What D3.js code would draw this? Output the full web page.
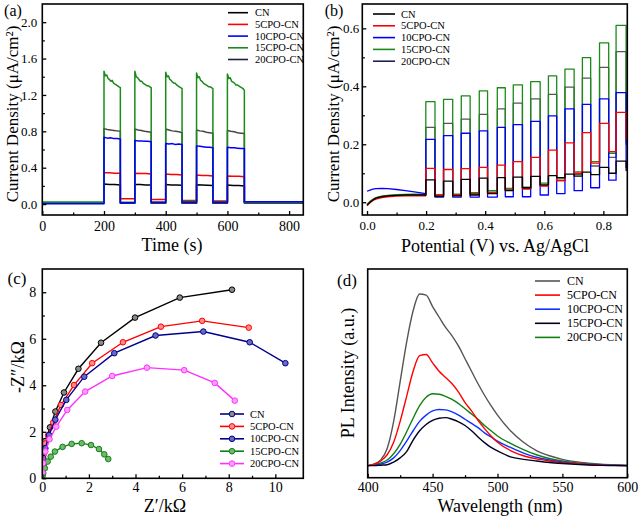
<!DOCTYPE html>
<html><head><meta charset="utf-8">
<script src="https://cdn.jsdelivr.net/npm/d3@7"></script>
<style>
body{margin:0;background:#fff}
svg{display:block}
text{font-family:"Liberation Serif","Times New Roman",serif;fill:#000}
</style>
</head><body>
<svg id="chart" width="640" height="520"></svg>
<script>
// ================= DATA =================
const seriesNames = ["CN","5CPO-CN","10CPO-CN","15CPO-CN","20CPO-CN"];

// ---- (a) transient photocurrent (µA/cm²) vs time (s) ----
const aOn  = [200, 300, 400, 500, 600];
const aOff = [253, 353, 453, 553, 655];
const aEnd = 850;
// dark levels: before pulse 1, then after each pulse
const aDarkCN  = [0.015, 0.010, 0.010, 0.010, 0.010, 0.012];
const aDark5   = [0.015, 0.060, 0.050, 0.040, 0.035, 0.020];
const aDark10  = [0.005, 0.015, 0.020, 0.020, 0.020, 0.025];
const aDark15  = [0.022, 0.020, 0.020, 0.030, 0.025, 0.020];
const aDark20  = [0.015, 0.012, 0.012, 0.012, 0.012, 0.015];
// light-on readings, evenly spread over each on-interval
const aLitCN = [[0.220,0.215,0.215,0.210],[0.215,0.215,0.210,0.210],[0.215,0.210,0.210,0.208],[0.212,0.210,0.208,0.205],[0.210,0.205,0.205,0.200]];
const aLit5  = [[0.345,0.345,0.340,0.340],[0.340,0.335,0.335,0.330],[0.330,0.325,0.325,0.320],[0.320,0.315,0.315,0.310],[0.310,0.305,0.305,0.300]];
const aLit10 = [[0.735,0.725,0.730,0.720,0.720,0.715],[0.700,0.695,0.695,0.690,0.690,0.685],[0.665,0.660,0.665,0.655,0.660,0.655],[0.640,0.635,0.630,0.625,0.625,0.620],[0.625,0.620,0.620,0.615,0.610,0.610]];
const aLit15 = [
  [1.46,1.41,1.42,1.38,1.37,1.35,1.36,1.33,1.32,1.31,1.30,1.29,1.28],
  [1.46,1.40,1.39,1.37,1.35,1.35,1.33,1.32,1.31,1.30,1.30,1.29,1.28],
  [1.45,1.40,1.41,1.37,1.36,1.34,1.33,1.33,1.31,1.30,1.29,1.28,1.27],
  [1.44,1.39,1.40,1.36,1.35,1.33,1.32,1.31,1.30,1.29,1.29,1.28,1.27],
  [1.43,1.38,1.39,1.35,1.34,1.33,1.31,1.31,1.30,1.29,1.28,1.27,1.25]];
const aLit20 = [[0.830,0.820,0.815,0.810,0.805,0.800],[0.825,0.815,0.810,0.800,0.795,0.790],[0.825,0.815,0.805,0.800,0.795,0.785],[0.815,0.805,0.800,0.790,0.785,0.780],[0.810,0.800,0.795,0.785,0.780,0.775]];
const aTicksX = [0,200,400,600,800];
const aTicksY = [0.0,0.4,0.8,1.2,1.6,2.0];

// ---- (b) chopped LSV: current (µA/cm²) vs potential (V) ----
const bPreV   = [0.000,0.010,0.020,0.030,0.050,0.070,0.100,0.130,0.160,0.199];
const bPreCN  = [-0.010,0.000,0.008,0.014,0.019,0.022,0.024,0.025,0.025,0.025];
const bPre5   = [-0.012,-0.002,0.006,0.011,0.016,0.019,0.021,0.022,0.022,0.022];
const bPre10  = [0.038,0.042,0.045,0.047,0.048,0.047,0.044,0.040,0.036,0.030];
const bPre15  = [-0.008,0.003,0.010,0.016,0.021,0.024,0.026,0.027,0.028,0.028];
const bPre20  = [-0.009,0.001,0.009,0.015,0.020,0.023,0.025,0.026,0.026,0.026];
const bOn  = [0.199,0.259,0.319,0.380,0.441,0.495,0.554,0.614,0.670,0.729,0.787,0.843];
const bOff = [0.230,0.290,0.349,0.408,0.468,0.526,0.586,0.642,0.701,0.757,0.818,0.877];
const bEndV = 0.881;
const bLitCN = [0.077,0.073,0.079,0.083,0.085,0.087,0.089,0.092,0.097,0.104,0.120,0.142];
const bLit5  = [0.117,0.113,0.116,0.120,0.128,0.140,0.155,0.180,0.205,0.240,0.272,0.310];
const bLit10 = [0.217,0.230,0.238,0.246,0.258,0.268,0.279,0.298,0.322,0.338,0.357,0.378];
const bLit15 = [0.347,0.355,0.367,0.384,0.395,0.405,0.416,0.436,0.459,0.499,0.550,0.610];
const bLit20 = [0.258,0.272,0.287,0.303,0.322,0.342,0.357,0.372,0.397,0.428,0.465,0.520];
const bDarkCN = [0.020,0.022,0.025,0.030,0.040,0.050,0.060,0.085,0.090,0.095,0.100,0.110];
const bDark5  = [0.025,0.025,0.028,0.033,0.043,0.045,0.056,0.075,0.100,0.135,0.175,0.220];
const bDark10 = [0.018,0.018,0.018,0.018,0.019,0.019,0.025,0.030,0.040,0.050,0.076,0.120];
const bDark15 = [0.025,0.028,0.033,0.040,0.048,0.052,0.066,0.083,0.105,0.140,0.169,0.210];
const bDark20 = [0.022,0.025,0.030,0.035,0.042,0.048,0.058,0.075,0.095,0.125,0.155,0.200];
const bTicksX = [0.0,0.2,0.4,0.6,0.8];
const bTicksY = [0.0,0.2,0.4,0.6];

// ---- (c) Nyquist plots: Z' (kΩ), -Z'' (kΩ) ----
const cXCN  = [0.01,0.05,0.12,0.33,0.56,0.93,1.55,2.52,3.98,5.90,8.14];
const cYCN  = [0.55,1.10,1.60,2.19,2.87,3.69,4.71,5.83,6.91,7.77,8.11];
const cX5   = [0.01,0.05,0.13,0.25,0.47,0.80,1.36,2.14,3.46,5.09,6.86,8.86];
const cY5   = [0.50,1.00,1.50,1.85,2.40,3.15,4.01,4.95,5.85,6.52,6.77,6.48];
const cX10  = [0.01,0.04,0.13,0.29,0.56,1.03,1.80,3.09,4.86,6.91,8.90,10.43];
const cY10  = [0.45,0.85,1.29,1.86,2.52,3.37,4.37,5.38,6.14,6.31,5.85,4.95];
const cX15  = [0.01,0.04,0.11,0.23,0.36,0.54,0.87,1.26,1.69,2.09,2.43,2.66,2.83];
const cY15  = [0.10,0.22,0.43,0.72,0.93,1.15,1.35,1.48,1.51,1.43,1.26,1.03,0.83];
const cX20  = [0.01,0.04,0.13,0.31,0.60,1.07,1.84,3.00,4.49,6.09,7.40,8.26];
const cY20  = [0.25,0.65,1.15,1.68,2.22,2.94,3.73,4.40,4.76,4.65,4.10,3.34];
const cTicksX = [0,2,4,6,8,10];
const cTicksY = [0,2,4,6,8];

// ---- (d) PL spectra (a.u.) vs wavelength (nm) ----
const dWl  = [400,405,410,415,420,425,430,435,440,445,450,455,460,465,470,475,480,485,490,495,500,510,520,530,540,550,560,570,580,590,600];
const dCN  = [0.058,0.065,0.085,0.14,0.27,0.46,0.65,0.80,0.88,0.875,0.82,0.77,0.72,0.68,0.63,0.57,0.51,0.45,0.395,0.345,0.30,0.225,0.17,0.13,0.105,0.088,0.077,0.070,0.065,0.062,0.060];
const d5   = [0.058,0.065,0.080,0.11,0.17,0.27,0.39,0.51,0.585,0.59,0.55,0.51,0.48,0.45,0.41,0.36,0.32,0.275,0.235,0.20,0.17,0.13,0.105,0.090,0.080,0.072,0.067,0.063,0.060,0.059,0.058];
const d10  = [0.058,0.060,0.065,0.075,0.095,0.13,0.175,0.225,0.27,0.30,0.32,0.327,0.325,0.315,0.30,0.28,0.26,0.24,0.215,0.195,0.175,0.145,0.118,0.098,0.085,0.075,0.068,0.064,0.061,0.059,0.058];
const d15  = [0.058,0.058,0.060,0.062,0.075,0.095,0.125,0.18,0.225,0.255,0.275,0.285,0.288,0.28,0.268,0.25,0.225,0.195,0.168,0.145,0.128,0.100,0.088,0.080,0.073,0.068,0.064,0.061,0.059,0.058,0.058];
const d20  = [0.058,0.062,0.070,0.085,0.115,0.16,0.22,0.285,0.345,0.385,0.402,0.40,0.39,0.375,0.355,0.33,0.305,0.28,0.25,0.225,0.20,0.165,0.135,0.110,0.092,0.080,0.072,0.066,0.062,0.060,0.058];
const dTicksX = [400,450,500,550,600];

// ================= DRAW =================
const svg = d3.select("#chart");

function minorBetween(ticks){
  const out=[]; for(let i=0;i<ticks.length-1;i++) out.push((ticks[i]+ticks[i+1])/2);
  return out;
}
function drawAxes(g, x, y, xt, xfmt, yt, yfmt, o){
  const y0 = y.range()[0], x0 = x.range()[0];
  const fs = o.fs||14, yfs = o.yfs||fs;
  const bx = g.append("g").attr("transform",`translate(0,${y0})`)
    .call(d3.axisBottom(x).tickValues(xt).tickSize(-4).tickPadding(o.xpad||7).tickFormat(xfmt));
  const bxm = g.append("g").attr("transform",`translate(0,${y0})`)
    .call(d3.axisBottom(x).tickValues(o.xminor||minorBetween(xt)).tickSize(-2.5).tickFormat(""));
  [bx,bxm].forEach(s=>{s.select(".domain").remove(); s.attr("font-family",null).attr("font-size",null);
    s.selectAll("line").attr("stroke","#000").attr("stroke-width",1.3);});
  bx.selectAll("text").style("font-size",fs+"px");
  if(yt){
    const ly = g.append("g").attr("transform",`translate(${x0},0)`)
      .call(d3.axisLeft(y).tickValues(yt).tickSize(-4).tickPadding(o.ypad||5).tickFormat(yfmt));
    const lym = g.append("g").attr("transform",`translate(${x0},0)`)
      .call(d3.axisLeft(y).tickValues(o.yminor||minorBetween(yt)).tickSize(-2.5).tickFormat(""));
    [ly,lym].forEach(s=>{s.select(".domain").remove(); s.attr("font-family",null).attr("font-size",null);
      s.selectAll("line").attr("stroke","#000").attr("stroke-width",1.3);});
    ly.selectAll("text").style("font-size",yfs+"px");
  }
  const [xa,xb]=x.range(), [ya,yb]=y.range();
  g.append("rect").attr("x",xa).attr("y",yb).attr("width",xb-xa).attr("height",ya-yb)
    .attr("fill","none").attr("stroke","#000").attr("stroke-width",1.6);
}
function clip(id, x, y){
  const [xa,xb]=x.range(), [ya,yb]=y.range();
  svg.append("clipPath").attr("id",id).append("rect")
    .attr("x",xa).attr("y",yb).attr("width",xb-xa).attr("height",ya-yb);
  return `url(#${id})`;
}
function label(txt,x,y,fs,rot){
  const t = svg.append("text").attr("x",x).attr("y",y).attr("text-anchor","middle")
    .attr("dominant-baseline","central").style("font-size",fs+"px").text(txt);
  if(rot) t.attr("transform",`rotate(-90,${x},${y})`);
  return t;
}
function legend(g, x1, x2, tx, y0, dy, colors, fs, marker, fills){
  [0,1,2,3,4].forEach((i,k)=>{
    const yy = y0 + k*dy;
    g.append("line").attr("x1",x1).attr("x2",x2).attr("y1",yy).attr("y2",yy)
      .attr("stroke",colors[i]).attr("stroke-width",1.6);
    if(marker) g.append("circle").attr("cx",(x1+x2)/2).attr("cy",yy).attr("r",2.8)
      .attr("fill",fills[i]).attr("stroke",colors[i]).attr("stroke-width",1);
    g.append("text").attr("x",tx).attr("y",yy).attr("dominant-baseline","central")
      .style("font-size",fs+"px").text(seriesNames[i]);
  });
}

// ---------- panel (a) ----------
{
  const x = d3.scaleLinear().domain([0,846]).range([42.3,303.3]);
  const y = d3.scaleLinear().domain([-0.12,2.2]).range([215,4]);
  const g = svg.append("g");
  const cp = clip("ca",x,y);
  const colors = ["#000000","#ff0000","#0000ff","#1a8a1a","#474747"];
  const darks = [aDarkCN,aDark5,aDark10,aDark15,aDark20];
  const lits  = [aLitCN,aLit5,aLit10,aLit15,aLit20];
  function pts(dark, lit){
    const p=[[0,dark[0]]];
    aOn.forEach((t0,k)=>{
      const t1=aOff[k], v=lit[k], n=v.length;
      p.push([t0,dark[k]]);
      v.forEach((val,i)=>p.push([t0+i*(t1-t0)/(n-1),val]));
      p.push([t1,dark[k+1]]);
    });
    p.push([aEnd,dark[5]]);
    return p;
  }
  const line = d3.line().x(d=>x(d[0])).y(d=>y(d[1]));
  [0,1,4,3,2].forEach(i=>{
    g.append("path").attr("d",line(pts(darks[i],lits[i]))).attr("clip-path",cp)
      .attr("fill","none").attr("stroke",colors[i]).attr("stroke-width",1.5).attr("stroke-linejoin","round");
  });
  drawAxes(g,x,y,aTicksX,d3.format("d"),aTicksY,d3.format(".1f"),{fs:14,yfs:13,xpad:6,ypad:5,yminor:[0.2,0.6,1.0,1.4,1.8]});
  legend(g,228,248,255,12.7,11.7,["#000000","#ff0000","#0000ff","#1a8a1a","#202040"],10.5,false);
  label("(a)",13,10,16);
  label("Time (s)",172,245,18);
  label("Current Density (μA/cm²)",12,114,17,true);
}

// ---------- panel (b) ----------
{
  const x = d3.scaleLinear().domain([-0.016,0.881]).range([362.3,627.3]);
  const y = d3.scaleLinear().domain([-0.044,0.684]).range([215,4]);
  const g = svg.append("g");
  const cp = clip("cb",x,y);
  const colors = ["#000000","#ff0000","#0000ff","#1a8a1a","#555555"];
  const pres = [bPreCN,bPre5,bPre10,bPre15,bPre20];
  const lits = [bLitCN,bLit5,bLit10,bLit15,bLit20];
  const darks= [bDarkCN,bDark5,bDark10,bDark15,bDark20];
  function pts(pre,lit,dark){
    const p = bPreV.map((v,i)=>[v,pre[i]]);
    let prev = pre[pre.length-1];
    bOn.forEach((v0,k)=>{
      p.push([v0,prev]); p.push([v0,lit[k]]); p.push([bOff[k],lit[k]]); p.push([bOff[k],dark[k]]);
      prev = dark[k];
    });
    p.push([bEndV,prev]);
    return p;
  }
  const line = d3.line().x(d=>x(d[0])).y(d=>y(d[1]));
  [4,3,2,1,0].forEach(i=>{
    g.append("path").attr("d",line(pts(pres[i],lits[i],darks[i]))).attr("clip-path",cp)
      .attr("fill","none").attr("stroke",colors[i]).attr("stroke-width",1.3).attr("stroke-linejoin","round");
  });
  drawAxes(g,x,y,bTicksX,d3.format(".1f"),bTicksY,d3.format(".1f"),{fs:13,xpad:6,ypad:3});
  legend(g,373,395,401,14,11.8,["#000000","#ff0000","#0000ff","#1a8a1a","#202050"],10.5,false);
  label("(b)",334,10,16);
  label("Potential (V) vs. Ag/AgCl",495,246,18);
  label("Current Density (μA/cm²)",333,114,17,true);
}

// ---------- panel (c) ----------
{
  const x = d3.scaleLinear().domain([0,11.2]).range([42.3,303.3]);
  const y = d3.scaleLinear().domain([0,9]).range([478.3,269]);
  const g = svg.append("g");
  const cp = clip("cc",x,y);
  const colors = ["#000000","#ff0000","#000090","#108010","#ff30ff"];
  const fills  = ["#8a8a8a","#ff8a8a","#6a6ac0","#70b870","#ffa0ff"];
  const xs=[cXCN,cX5,cX10,cX15,cX20], ys=[cYCN,cY5,cY10,cY15,cY20];
  const line = d3.line().x(d=>x(d[0])).y(d=>y(d[1]));
  [0,1,2,3,4].forEach(i=>{
    const p = xs[i].map((v,k)=>[v,ys[i][k]]);
    g.append("path").attr("d",line(p)).attr("clip-path",cp)
      .attr("fill","none").attr("stroke",colors[i]).attr("stroke-width",1.4);
    g.selectAll(null).data(p).enter().append("circle")
      .attr("cx",d=>x(d[0])).attr("cy",d=>y(d[1])).attr("r",2.8).attr("clip-path",cp)
      .attr("fill",fills[i]).attr("stroke",colors[i]).attr("stroke-width",1);
  });
  drawAxes(g,x,y,cTicksX,d3.format("d"),cTicksY,d3.format("d"),{fs:14,xpad:4,ypad:6});
  legend(g,220,244,250,414,12.4,["#000080","#ff0000","#000090","#108010","#ff30ff"],10.5,true,fills);
  label("(c)",17,278,17);
  label("Z′/kΩ",165,506,18);
  label("-Z″/kΩ",18,367,18,true);
}

// ---------- panel (d) ----------
{
  const x = d3.scaleLinear().domain([400,600]).range([367.7,627.3]);
  const y = d3.scaleLinear().domain([0,1]).range([477.7,269]);
  const g = svg.append("g");
  const cp = clip("cd",x,y);
  const colors = ["#555555","#ff0000","#1030ff","#000022","#108010"];
  const vals = [dCN,d5,d10,d15,d20];
  const line = d3.line().curve(d3.curveMonotoneX).x(d=>x(d[0])).y(d=>y(d[1]));
  [0,4,2,1,3].forEach(i=>{
    g.append("path").attr("d",line(dWl.map((w,k)=>[w,vals[i][k]]))).attr("clip-path",cp)
      .attr("fill","none").attr("stroke",colors[i]).attr("stroke-width",1.4);
  });
  drawAxes(g,x,y,dTicksX,d3.format("d"),null,null,{fs:14,xpad:4});
  legend(g,535,560,567,281,14.1,colors,12,false);
  label("(d)",347,280,17);
  label("Wavelength (nm)",500,506,18);
  label("PL Intensity (a.u.)",348,373,18,true);
}
</script>
</body></html>
